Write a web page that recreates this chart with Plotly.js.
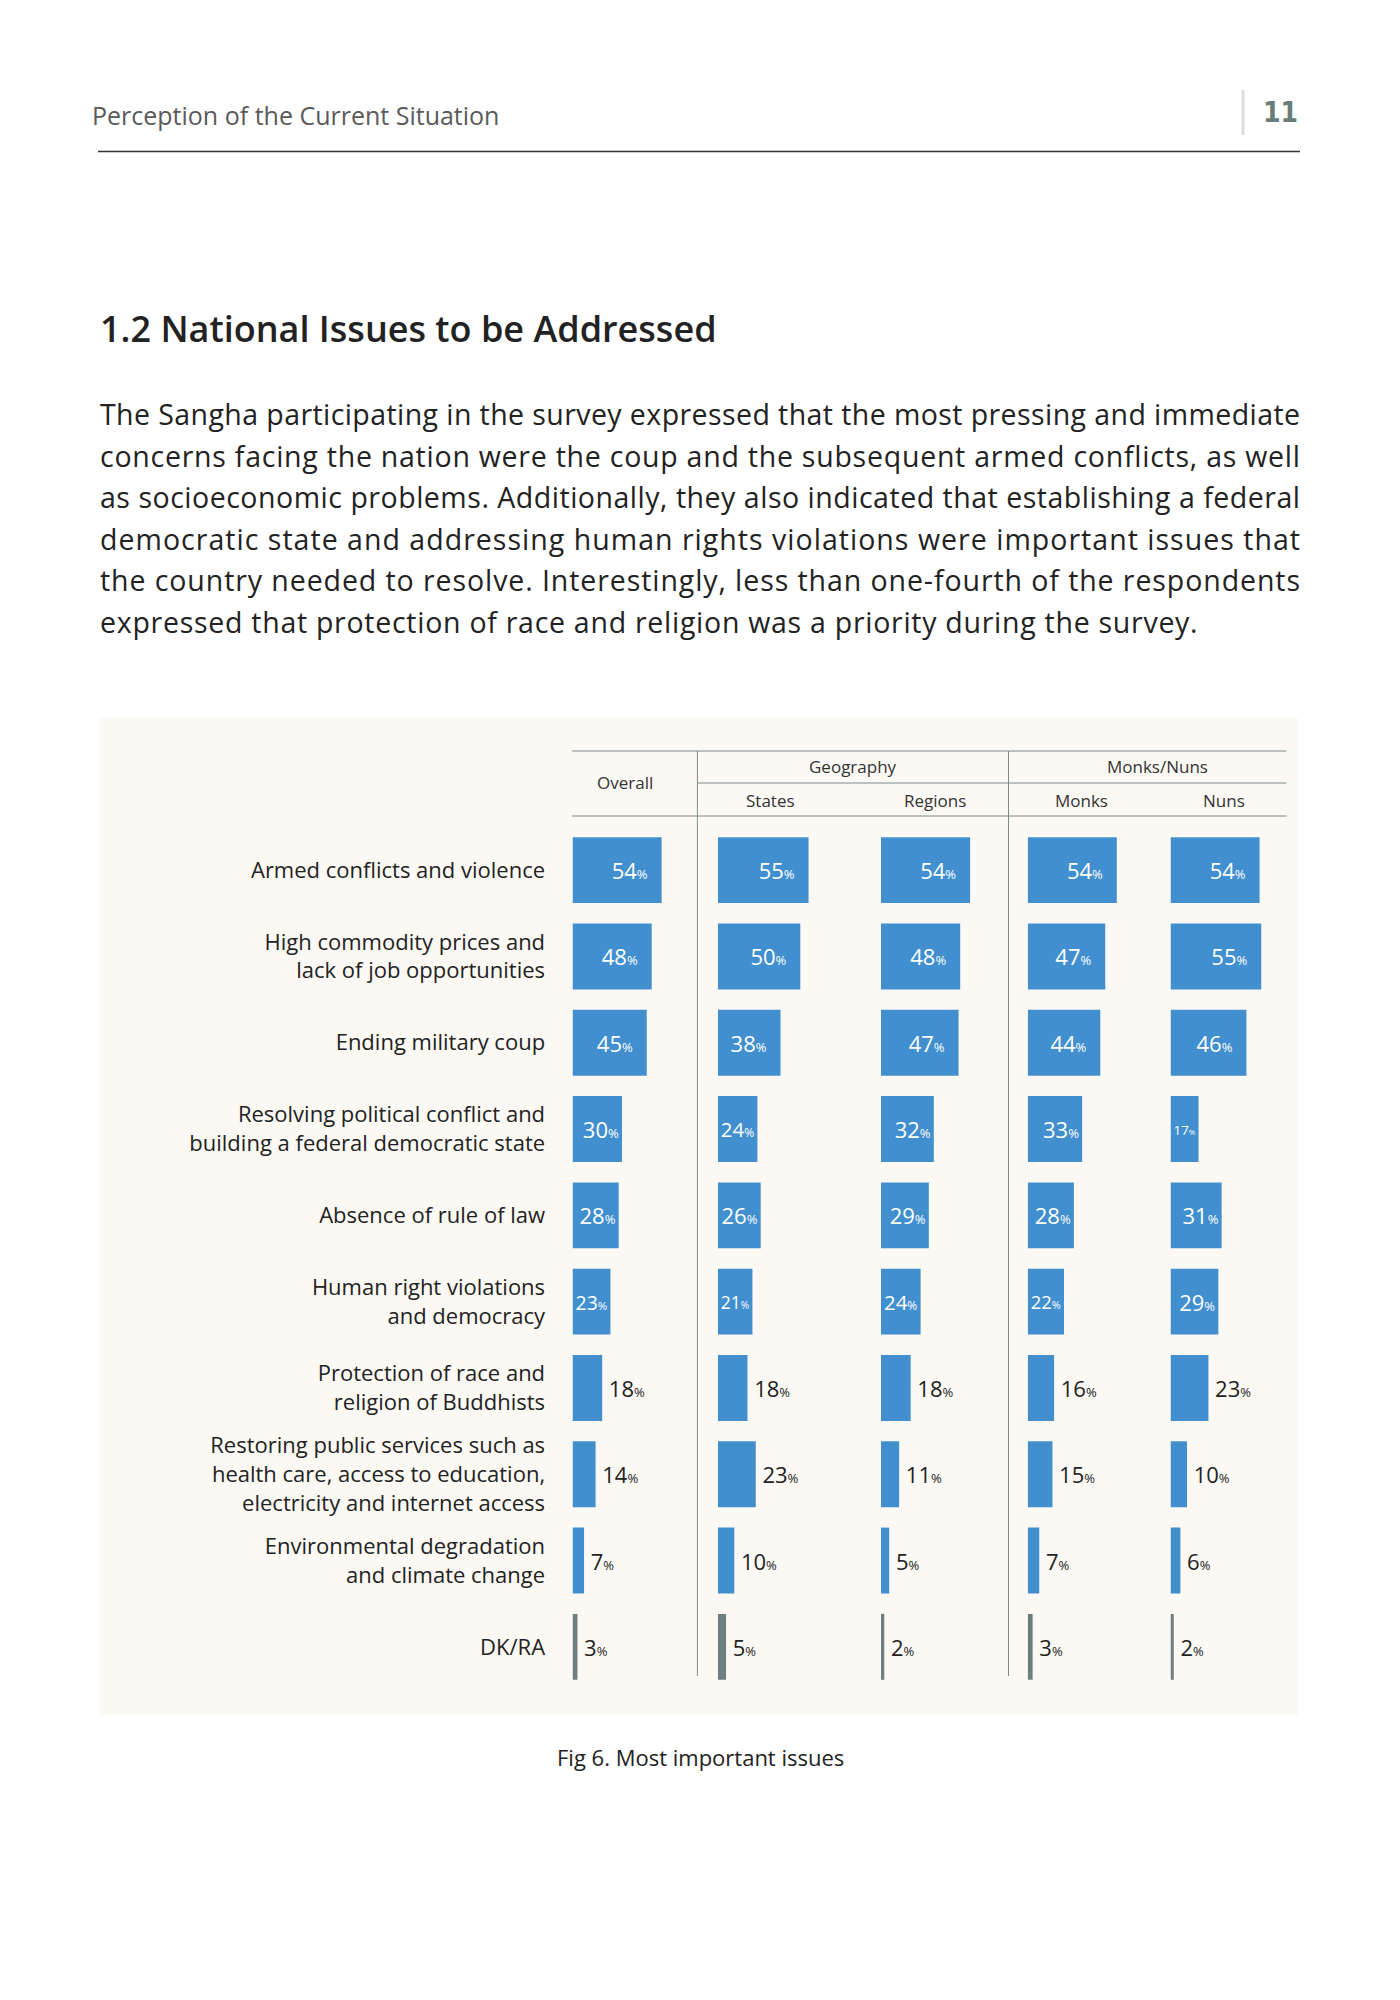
<!DOCTYPE html>
<html>
<head>
<meta charset="utf-8">
<script src="https://cdn.plot.ly/plotly-3.0.1.min.js"></script>
<style>
  html, body { margin: 0; padding: 0; background: #ffffff; }
  #chart { width: 1400px; height: 2000px; }
</style>
</head>
<body>
<div id="chart"></div>
<script>
// ---------------- DATA ----------------
const categories = [
  "Armed conflicts and violence",
  "High commodity prices and<br>lack of job opportunities",
  "Ending military coup",
  "Resolving political conflict and<br>building a federal democratic state",
  "Absence of rule of law",
  "Human right violations<br>and democracy",
  "Protection of race and<br>religion of Buddhists",
  "Restoring public services such as<br>health care, access to education,<br>electricity and internet access",
  "Environmental degradation<br>and climate change",
  "DK/RA"
];
const overall = [54, 48, 45, 30, 28, 23, 18, 14, 7, 3];
const states  = [55, 50, 38, 24, 26, 21, 18, 23, 10, 5];
const regions = [54, 48, 47, 32, 29, 24, 18, 11, 5, 2];
const monks   = [54, 47, 44, 33, 28, 22, 16, 15, 7, 3];
const nuns    = [54, 55, 46, 17, 31, 29, 23, 10, 6, 2];
const columnNames = ["Overall", "States", "Regions", "Monks", "Nuns"];
const groupNames = ["Geography", "Monks/Nuns"];

const paragraph = [
  "The Sangha participating in the survey expressed that the most pressing and immediate",
  "concerns facing the nation were the coup and the subsequent armed conflicts, as well",
  "as socioeconomic problems. Additionally, they also indicated that establishing a federal",
  "democratic state and addressing human rights violations were important issues that",
  "the country needed to resolve. Interestingly, less than one-fourth of the respondents",
  "expressed that protection of race and religion was a priority during the survey."
];
const headerText = "Perception of the Current Situation";
const pageNumber = "11";
const sectionTitle = "1.2 National Issues to be Addressed";
const caption = "Fig 6. Most important issues";

// ---------------- STYLE ----------------
const W = 1400, H = 2000;
const X = px => px / W;
const Y = py => 1 - py / H;
const FONT = "Open Sans, Noto Sans, sans-serif";
const BLUE = "#418fcf";
const GREY = "#6e7f80";
const LINE = "#7d8a8a";

const colLeft = [572.5, 717.8, 881, 1027.7, 1170.5];
const colWidth = 99;       // px for range [0, 60]
const xMax = 60;

const insideRows = 6; // first rows labelled inside the bar

function pctText(v, inside) {
  const t = v + "<span style='font-size:13px'>%</span>";
  if (!inside) return "\u2009" + t;
  return v >= 38 ? t + "\u2002" : t;
}

const series = [overall, states, regions, monks, nuns];
const traces = series.map((vals, i) => ({
  type: "bar",
  orientation: "h",
  name: columnNames[i],
  x: vals,
  y: categories,
  xaxis: i === 0 ? "x" : "x" + (i + 1),
  yaxis: "y",
  marker: { color: vals.map((v, k) => k === vals.length - 1 ? GREY : BLUE), line: { width: 0 } },
  text: vals.map((v, k) => pctText(v, k < insideRows)),
  textposition: vals.map((v, k) => k < insideRows ? "inside" : "outside"),
  insidetextanchor: "end",
  textangle: 0,
  insidetextfont: { family: FONT, size: 22, color: "#ffffff" },
  outsidetextfont: { family: FONT, size: 22, color: "#222222" },
  cliponaxis: false,
  hoverinfo: "skip",
  showlegend: false
}));

const layout = {
  width: W, height: H,
  margin: { l: 0, r: 0, t: 0, b: 0, pad: 0 },
  paper_bgcolor: "#ffffff",
  plot_bgcolor: "rgba(0,0,0,0)",
  bargap: 0.236,
  showlegend: false,
  font: { family: FONT, color: "#222222" },
  yaxis: {
    domain: [Y(1690), Y(827)],
    type: "category",
    categoryorder: "array",
    categoryarray: categories,
    autorange: "reversed",
    anchor: "x",
    showgrid: false, zeroline: false, showline: false,
    ticks: "outside", ticklen: 22, tickcolor: "rgba(0,0,0,0)",
    tickfont: { family: FONT, size: 22, color: "#222222" },
    fixedrange: true
  },
  shapes: [],
  annotations: []
};

colLeft.forEach((left, i) => {
  const key = i === 0 ? "xaxis" : "xaxis" + (i + 1);
  layout[key] = {
    domain: [X(left), X(left + colWidth)],
    range: [0, xMax],
    anchor: "y",
    visible: false,
    fixedrange: true
  };
});

// background panel
layout.shapes.push({
  type: "rect", xref: "paper", yref: "paper", layer: "below",
  x0: X(99), x1: X(1298), y0: Y(1715), y1: Y(718),
  fillcolor: "#fcf9f4", line: { width: 0 }
});
// page header rule
layout.shapes.push({
  type: "line", xref: "paper", yref: "paper",
  x0: X(98), x1: X(1300), y0: Y(151.5), y1: Y(151.5),
  line: { color: "#333333", width: 1.5 }
});
// small vertical separator beside page number
layout.shapes.push({
  type: "line", xref: "paper", yref: "paper",
  x0: X(1243), x1: X(1243), y0: Y(90), y1: Y(135),
  line: { color: "#dcdcdc", width: 3 }
});
// table header lines
[[572, 751], [697.4, 783], [572, 816]].forEach(([x0, y]) => {
  layout.shapes.push({
    type: "line", xref: "paper", yref: "paper",
    x0: X(x0), x1: X(1286.5), y0: Y(y), y1: Y(y),
    line: { color: LINE, width: 1 }
  });
});
// vertical separators
[697.4, 1008.5].forEach(x => {
  layout.shapes.push({
    type: "line", xref: "paper", yref: "paper",
    x0: X(x), x1: X(x), y0: Y(1676), y1: Y(751),
    line: { color: LINE, width: 1 }
  });
});

function ann(text, xpx, ypx, opts) {
  layout.annotations.push(Object.assign({
    text: text, xref: "paper", yref: "paper",
    x: X(xpx), y: Y(ypx), showarrow: false,
    xanchor: "left", yanchor: "middle",
    font: { family: FONT, size: 20, color: "#222222" }
  }, opts || {}));
  return layout.annotations.length - 1;
}

// page header
ann(headerText, 90, 115, { font: { family: FONT, size: 25, color: "#5a5a5a" } });
ann(pageNumber, 1300, 113, { xanchor: "right", font: { family: "Liberation Sans Narrow, DejaVu Sans Condensed, Open Sans, sans-serif", size: 28, color: "#6b7d7b", weight: 700 } });
// section title
ann(sectionTitle, 98, 329, { font: { family: FONT, size: 36, color: "#222222", weight: 600 } });
// paragraph
const paraY = [414, 455.5, 497, 538.5, 580, 622];
const PARA_SIZE = 28.5;
const paraIdx = paragraph.map((line, i) =>
  ann(line, 98, paraY[i], { font: { family: FONT, size: PARA_SIZE, color: "#222222" } })
);
// table headers
const hdrFont = { family: FONT, size: 17, color: "#333333" };
ann(columnNames[0], 624.7, 783, { xanchor: "center", font: hdrFont });
ann(groupNames[0], 853, 767, { xanchor: "center", font: hdrFont });
ann(groupNames[1], 1157.7, 767, { xanchor: "center", font: hdrFont });
ann(columnNames[1], 770, 800, { xanchor: "center", font: hdrFont });
ann(columnNames[2], 934.6, 800, { xanchor: "center", font: hdrFont });
ann(columnNames[3], 1081, 800, { xanchor: "center", font: hdrFont });
ann(columnNames[4], 1224, 800, { xanchor: "center", font: hdrFont });
// caption
ann(caption, 700, 1757, { xanchor: "center", font: { family: FONT, size: 22, color: "#222222" } });

// justify paragraph lines by letter spacing (last line uses the mean spacing)
const JUSTIFY_WIDTH = 1200;
Plotly.newPlot("chart", traces, layout, { staticPlot: true, displayModeBar: false }).then(gd => {
  const upd = {};
  const spacing = [];
  paraIdx.forEach((idx, i) => {
    const el = gd.querySelector('g.annotation[data-index="' + idx + '"] text.annotation-text');
    if (!el) { spacing.push(null); return; }
    const w = el.getComputedTextLength();
    spacing.push((JUSTIFY_WIDTH - w) / (paragraph[i].length - 1));
  });
  const full = spacing.slice(0, -1).filter(s => s !== null);
  const mean = full.reduce((a, b) => a + b, 0) / (full.length || 1);
  paraIdx.forEach((idx, i) => {
    let ls = i === paragraph.length - 1 ? mean : spacing[i];
    if (ls === null) return;
    upd["annotations[" + idx + "].text"] =
      "<span style='letter-spacing:" + ls.toFixed(3) + "px'>" + paragraph[i] + "</span>";
  });
  return Plotly.relayout(gd, upd);
});
</script>
</body>
</html>
